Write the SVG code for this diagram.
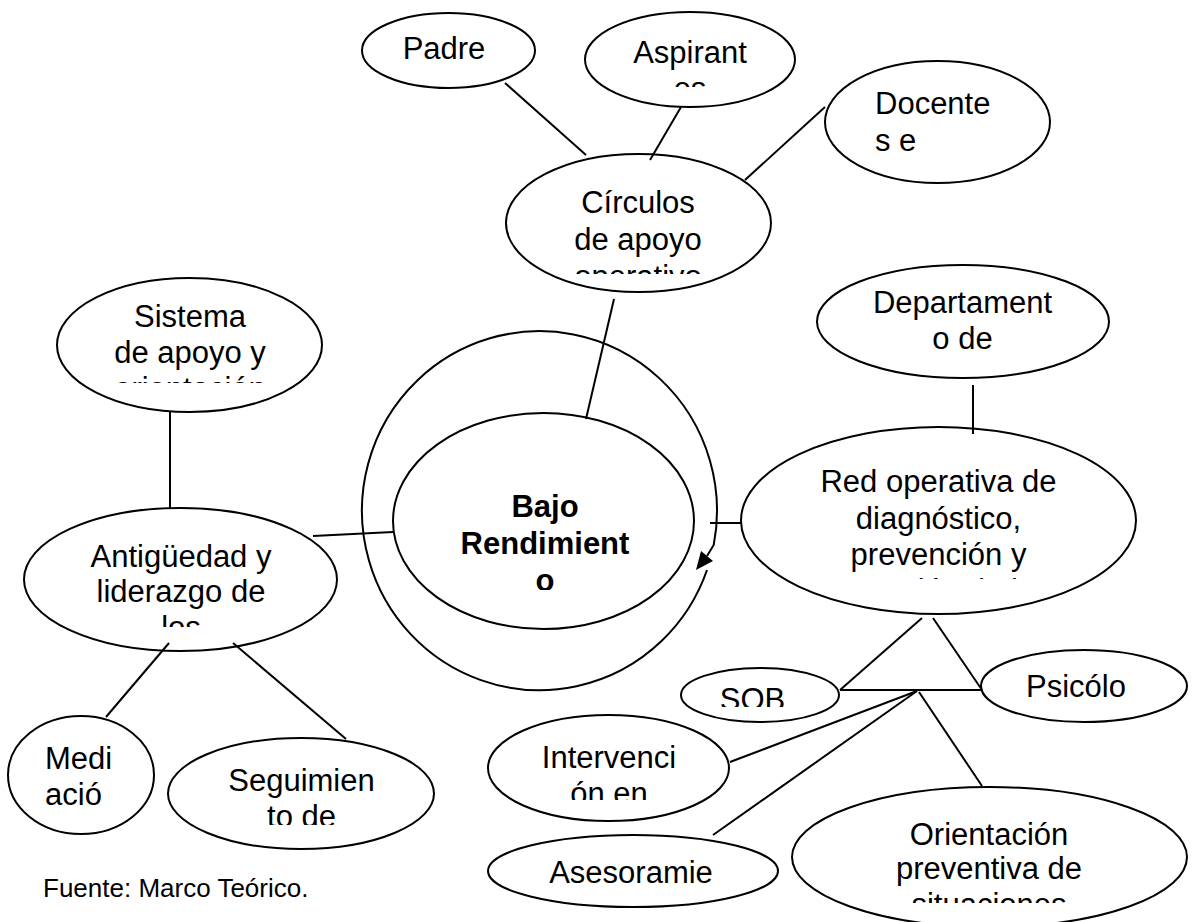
<svg xmlns="http://www.w3.org/2000/svg" width="1200" height="922" viewBox="0 0 1200 922">
<style>
.n{fill:none;stroke:#000;stroke-width:2}
.t{font-family:"Liberation Sans",Arial,sans-serif;font-size:31px;fill:#000;text-anchor:middle}
.s{text-anchor:start}
.b{font-weight:bold}
#connectors line,#connectors path{stroke:#000;stroke-width:2;fill:none}
</style>
<defs>
<clipPath id="cAsp"><rect x="0" y="0" width="1200" height="87"/></clipPath>
<clipPath id="cCir"><rect x="0" y="0" width="1200" height="274"/></clipPath>
<clipPath id="cSis"><rect x="0" y="0" width="1200" height="383"/></clipPath>
<clipPath id="cAnt"><rect x="0" y="0" width="1200" height="627"/></clipPath>
<clipPath id="cBajo"><rect x="0" y="0" width="1200" height="590"/></clipPath>
<clipPath id="cRed"><rect x="0" y="0" width="1200" height="579"/></clipPath>
<clipPath id="cSob"><rect x="0" y="0" width="1200" height="707"/></clipPath>
<clipPath id="cInt"><rect x="0" y="0" width="1200" height="800"/></clipPath>
<clipPath id="cOri"><rect x="0" y="0" width="1200" height="903"/></clipPath>
<clipPath id="cSeg"><rect x="0" y="0" width="1200" height="825"/></clipPath>
</defs>
<rect width="1200" height="922" fill="#fff"/>

<g id="padre"><ellipse class="n" cx="448.5" cy="50.5" rx="86.5" ry="37.5"/><text class="t" x="444" y="59">Padre</text></g>
<g id="aspirantes"><ellipse class="n" cx="690" cy="59.5" rx="105" ry="47.5"/><text class="t" clip-path="url(#cAsp)"><tspan x="690" y="63">Aspirant</tspan><tspan x="690" y="99">es</tspan></text></g>
<g id="docentes"><ellipse class="n" cx="937.5" cy="122" rx="112.5" ry="61"/><text class="t s"><tspan x="875" y="114">Docente</tspan><tspan x="875" y="151">s e</tspan></text></g>
<g id="circulos"><ellipse class="n" cx="638.5" cy="223" rx="132.5" ry="69"/><text class="t" clip-path="url(#cCir)"><tspan x="638" y="213">Círculos</tspan><tspan x="638" y="250">de apoyo</tspan><tspan x="638" y="287">operativo</tspan></text></g>
<g id="sistema"><ellipse class="n" cx="189.5" cy="345" rx="132.5" ry="67"/><text class="t" clip-path="url(#cSis)"><tspan x="190" y="327">Sistema</tspan><tspan x="190" y="363">de apoyo y</tspan><tspan x="190" y="399">orientación</tspan></text></g>
<g id="antiguedad"><ellipse class="n" cx="180.5" cy="579.5" rx="156.5" ry="71.5"/><text class="t" clip-path="url(#cAnt)"><tspan x="181" y="567">Antigüedad y</tspan><tspan x="181" y="602">liderazgo de</tspan><tspan x="181" y="638">los</tspan></text></g>
<g id="bajo"><ellipse class="n" cx="543.5" cy="521" rx="150.5" ry="108"/><text class="t b" clip-path="url(#cBajo)"><tspan x="545" y="517">Bajo</tspan><tspan x="545" y="554">Rendimient</tspan><tspan x="545" y="591">o</tspan></text></g>
<g id="departamento"><ellipse class="n" cx="963" cy="321.5" rx="146" ry="56.5"/><text class="t"><tspan x="962.5" y="313">Departament</tspan><tspan x="962.5" y="349">o de</tspan></text></g>
<g id="red"><ellipse class="n" cx="938.5" cy="520.5" rx="197.5" ry="93.5"/><text class="t" clip-path="url(#cRed)"><tspan x="938.5" y="492">Red operativa de</tspan><tspan x="938.5" y="529">diagnóstico,</tspan><tspan x="938.5" y="565">prevención y</tspan><tspan x="938.5" y="601">atención de la</tspan></text></g>
<g id="sob"><ellipse class="n" cx="760" cy="695" rx="79" ry="27"/><text class="t" x="752.5" y="710" clip-path="url(#cSob)">SOB</text></g>
<g id="psicologo"><ellipse class="n" cx="1084" cy="686" rx="103" ry="36"/><text class="t" x="1076" y="697">Psicólo</text></g>
<g id="intervencion"><ellipse class="n" cx="608.5" cy="768" rx="120.5" ry="53"/><text class="t" clip-path="url(#cInt)"><tspan x="609" y="768">Intervenci</tspan><tspan x="609" y="804">ón en</tspan></text></g>
<g id="asesoramiento"><ellipse class="n" cx="633" cy="871" rx="145" ry="36"/><text class="t" x="631" y="883">Asesoramie</text></g>
<g id="orientacion"><ellipse class="n" cx="989.5" cy="857" rx="197.5" ry="70"/><text class="t" clip-path="url(#cOri)"><tspan x="989" y="845">Orientación</tspan><tspan x="989" y="879">preventiva de</tspan><tspan x="989" y="915">situaciones</tspan></text></g>
<g id="mediacion"><ellipse class="n" cx="81" cy="775" rx="73" ry="59"/><text class="t s"><tspan x="45" y="769">Medi</tspan><tspan x="45" y="805">ació</tspan></text></g>
<g id="seguimiento"><ellipse class="n" cx="301" cy="793.5" rx="133" ry="55.5"/><text class="t" clip-path="url(#cSeg)"><tspan x="301.5" y="791">Seguimien</tspan><tspan x="301.5" y="827">to de</tspan></text></g>

<g id="connectors">
<path d="M707,570 A177.5 179.5 0 1 1 713.7,545 L707,556"/>
<polygon points="696,570 701,551 713,561" fill="#000"/>
<line x1="505" y1="83" x2="586" y2="155"/>
<line x1="681" y1="107" x2="650" y2="160"/>
<line x1="825" y1="107" x2="745" y2="180"/>
<line x1="614" y1="299" x2="586" y2="419"/>
<line x1="170" y1="412" x2="170" y2="508"/>
<line x1="313" y1="536" x2="393" y2="532"/>
<line x1="973" y1="385" x2="973" y2="434"/>
<line x1="710" y1="523" x2="741" y2="523"/>
<line x1="169" y1="643" x2="106" y2="717"/>
<line x1="233" y1="643" x2="346" y2="739"/>
<line x1="922" y1="618" x2="840" y2="690"/>
<line x1="933" y1="618" x2="982" y2="690"/>
<line x1="840" y1="690" x2="982" y2="690"/>
<line x1="917" y1="691" x2="730" y2="762"/>
<line x1="917" y1="691" x2="713" y2="835"/>
<line x1="919" y1="692" x2="982" y2="786"/>
</g>

<text class="t s" x="43" y="897" style="font-size:26px">Fuente: Marco Teórico.</text>
</svg>
